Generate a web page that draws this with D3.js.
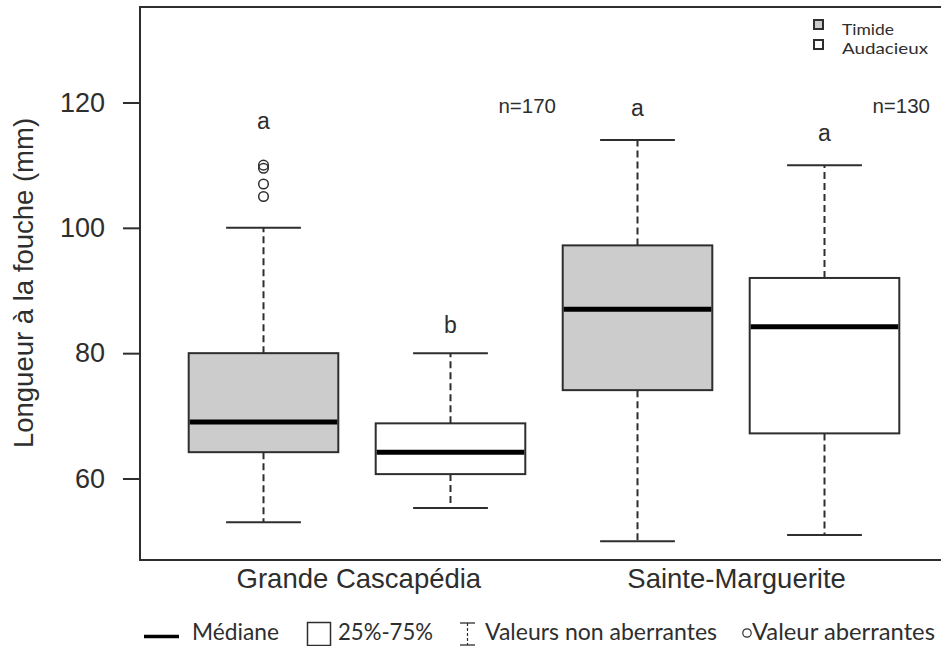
<!DOCTYPE html>
<html>
<head>
<meta charset="utf-8">
<script src="https://cdn.jsdelivr.net/npm/d3@7"></script>
<style>
  html, body { margin: 0; padding: 0; background: #fff; }
  svg { display: block; }
</style>
</head>
<body>
<svg id="chart" width="941" height="646"></svg>
<script>
// Fork length by river and behaviour type
const rivers = ["Grande Cascapédia", "Sainte-Marguerite"];
const behaviours = ["Timide", "Audacieux", "Timide", "Audacieux"];
const whiskerLow = [53, 55.3, 50, 51];
const q1 = [64.2, 60.7, 74.1, 67.2];
const medians = [69, 64.2, 87, 84.2];
const q3 = [80, 68.8, 97.2, 92];
const whiskerHigh = [100, 80, 114, 110];
const outliers = [[105, 107, 109.5, 110], [], [], []];
const letters = ["a", "b", "a", "a"];
const letterY = [115.7, 83.2, 117.9, 113.9];
const sampleSizes = ["n=170", "n=130"];
const yTicks = [60, 80, 100, 120];
const legendTop = ["Timide", "Audacieux"];
const legendBottom = ["Médiane", "25%-75%", "Valeurs non aberrantes", "Valeur aberrantes"];

const fillFor = { "Timide": "#cccccc", "Audacieux": "#ffffff" };
const ink = "#2e2e2e";

const svg = d3.select("#chart");

const x = d3.scaleLinear().domain([1, 4]).range([263.5, 824.5]);
const y = d3.scaleLinear().domain([60, 120]).range([478.5, 102.5]);

const boxW = 0.8, capW = 0.4;
const plot = { left: 140, top: 7, right: 942, bottom: 560 };

// frame
svg.append("rect")
  .attr("x", plot.left).attr("y", plot.top)
  .attr("width", plot.right - plot.left).attr("height", plot.bottom - plot.top)
  .attr("fill", "none").attr("stroke", ink).attr("stroke-width", 2);

// y axis ticks and labels
const yAxis = d3.axisLeft(y).tickValues(yTicks).tickSize(17).tickPadding(18);
const gy = svg.append("g").attr("transform", `translate(${plot.left},0)`).call(yAxis);
gy.select(".domain").remove();
gy.selectAll(".tick line").attr("stroke", ink).attr("stroke-width", 2);
gy.selectAll(".tick text")
  .attr("fill", ink)
  .style("font-family", "'Liberation Sans', Arial, sans-serif")
  .style("font-size", "27px");

// y title
svg.append("text")
  .attr("transform", `translate(33,283) rotate(-90)`)
  .attr("text-anchor", "middle")
  .attr("fill", ink)
  .style("font-family", "'Liberation Sans', Arial, sans-serif")
  .style("font-size", "27.5px")
  .text("Longueur à la fouche (mm)");

// river labels
const riverPos = [1.51, 3.53];
svg.selectAll(".river").data(rivers).join("text")
  .attr("class", "river")
  .attr("x", (d, i) => x(riverPos[i]))
  .attr("y", 588)
  .attr("text-anchor", "middle")
  .attr("fill", ink)
  .style("font-family", "'Liberation Sans', Arial, sans-serif")
  .style("font-size", "27.5px")
  .text(d => d);

// boxes
const boxes = behaviours.map((b, i) => ({
  i, pos: i + 1, behaviour: b,
  lo: whiskerLow[i], q1: q1[i], med: medians[i], q3: q3[i], hi: whiskerHigh[i],
  out: outliers[i], letter: letters[i], letterY: letterY[i]
}));

const g = svg.selectAll(".box").data(boxes).join("g").attr("class", "box");

// dashed whiskers
g.append("line")
  .attr("x1", d => x(d.pos)).attr("x2", d => x(d.pos))
  .attr("y1", d => y(d.q3)).attr("y2", d => y(d.hi))
  .attr("stroke", ink).attr("stroke-width", 2).attr("stroke-dasharray", "7,4");
g.append("line")
  .attr("x1", d => x(d.pos)).attr("x2", d => x(d.pos))
  .attr("y1", d => y(d.q1)).attr("y2", d => y(d.lo))
  .attr("stroke", ink).attr("stroke-width", 2).attr("stroke-dasharray", "7,4");

// whisker caps
["hi", "lo"].forEach(k => {
  g.append("line")
    .attr("x1", d => x(d.pos - capW / 2)).attr("x2", d => x(d.pos + capW / 2))
    .attr("y1", d => y(d[k])).attr("y2", d => y(d[k]))
    .attr("stroke", ink).attr("stroke-width", 2);
});

// interquartile box
g.append("rect")
  .attr("x", d => x(d.pos - boxW / 2))
  .attr("width", d => x(d.pos + boxW / 2) - x(d.pos - boxW / 2))
  .attr("y", d => y(d.q3))
  .attr("height", d => y(d.q1) - y(d.q3))
  .attr("fill", d => fillFor[d.behaviour])
  .attr("stroke", ink).attr("stroke-width", 2);

// median
g.append("line")
  .attr("x1", d => x(d.pos - boxW / 2) + 1).attr("x2", d => x(d.pos + boxW / 2) - 1)
  .attr("y1", d => y(d.med)).attr("y2", d => y(d.med))
  .attr("stroke", "#000").attr("stroke-width", 5);

// outliers
g.selectAll("circle").data(d => d.out.map(v => ({ pos: d.pos, v }))).join("circle")
  .attr("cx", d => x(d.pos)).attr("cy", d => y(d.v))
  .attr("r", 4.8)
  .attr("fill", "none").attr("stroke", ink).attr("stroke-width", 1.5);

// significance letters
g.append("text")
  .attr("x", d => x(d.pos)).attr("y", d => y(d.letterY))
  .attr("text-anchor", "middle")
  .attr("fill", ink)
  .style("font-family", "'Liberation Sans', Arial, sans-serif")
  .style("font-size", "23px")
  .text(d => d.letter);

// sample sizes
const nPos = [2.41, 4.41];
svg.selectAll(".nlab").data(sampleSizes).join("text")
  .attr("class", "nlab")
  .attr("x", (d, i) => x(nPos[i]))
  .attr("y", y(118.4))
  .attr("text-anchor", "middle")
  .attr("fill", ink)
  .style("font-family", "'Liberation Sans', Arial, sans-serif")
  .style("font-size", "20.5px")
  .text(d => d);

// top-right legend
const legFont = "Lato, 'Open Sans', sans-serif";
const lt = svg.append("g");
legendTop.forEach((name, i) => {
  lt.append("rect")
    .attr("x", 814).attr("y", 20 + i * 20)
    .attr("width", 9).attr("height", 9)
    .attr("fill", fillFor[name]).attr("stroke", ink).attr("stroke-width", 2);
  lt.append("text")
    .attr("x", 842).attr("y", 34.5 + i * 19.5)
    .attr("fill", ink)
    .style("font-family", legFont)
    .style("font-size", "16px")
    .attr("textLength", i === 0 ? 52 : 86)
    .attr("lengthAdjust", "spacingAndGlyphs")
    .text(name);
});

// bottom legend
const lb = svg.append("g");
const lbY = 639.5;
lb.append("line").attr("x1", 144).attr("x2", 179).attr("y1", 636.5).attr("y2", 636.5)
  .attr("stroke", "#000").attr("stroke-width", 3.5);
lb.append("rect").attr("x", 307.5).attr("y", 622.5).attr("width", 23).attr("height", 23)
  .attr("fill", "#fff").attr("stroke", ink).attr("stroke-width", 1.5);
lb.append("line").attr("x1", 460).attr("x2", 475).attr("y1", 623).attr("y2", 623)
  .attr("stroke", ink).attr("stroke-width", 1.3);
lb.append("line").attr("x1", 460).attr("x2", 475).attr("y1", 645).attr("y2", 645)
  .attr("stroke", ink).attr("stroke-width", 1.3);
lb.append("line").attr("x1", 467.5).attr("x2", 467.5).attr("y1", 623).attr("y2", 645)
  .attr("stroke", ink).attr("stroke-width", 1.2).attr("stroke-dasharray", "3,2");
lb.append("circle").attr("cx", 747).attr("cy", 633).attr("r", 4.2)
  .attr("fill", "none").attr("stroke", ink).attr("stroke-width", 1.2);

const lbText = [
  { x: 192, w: 87 },
  { x: 338, w: 95 },
  { x: 485, w: 232 },
  { x: 752, w: 183 }
];
legendBottom.forEach((t, i) => {
  lb.append("text")
    .attr("x", lbText[i].x).attr("y", lbY)
    .attr("fill", ink)
    .style("font-family", legFont)
    .style("font-size", "23.5px")
    .attr("textLength", lbText[i].w)
    .attr("lengthAdjust", "spacingAndGlyphs")
    .text(t);
});
</script>
</body>
</html>
